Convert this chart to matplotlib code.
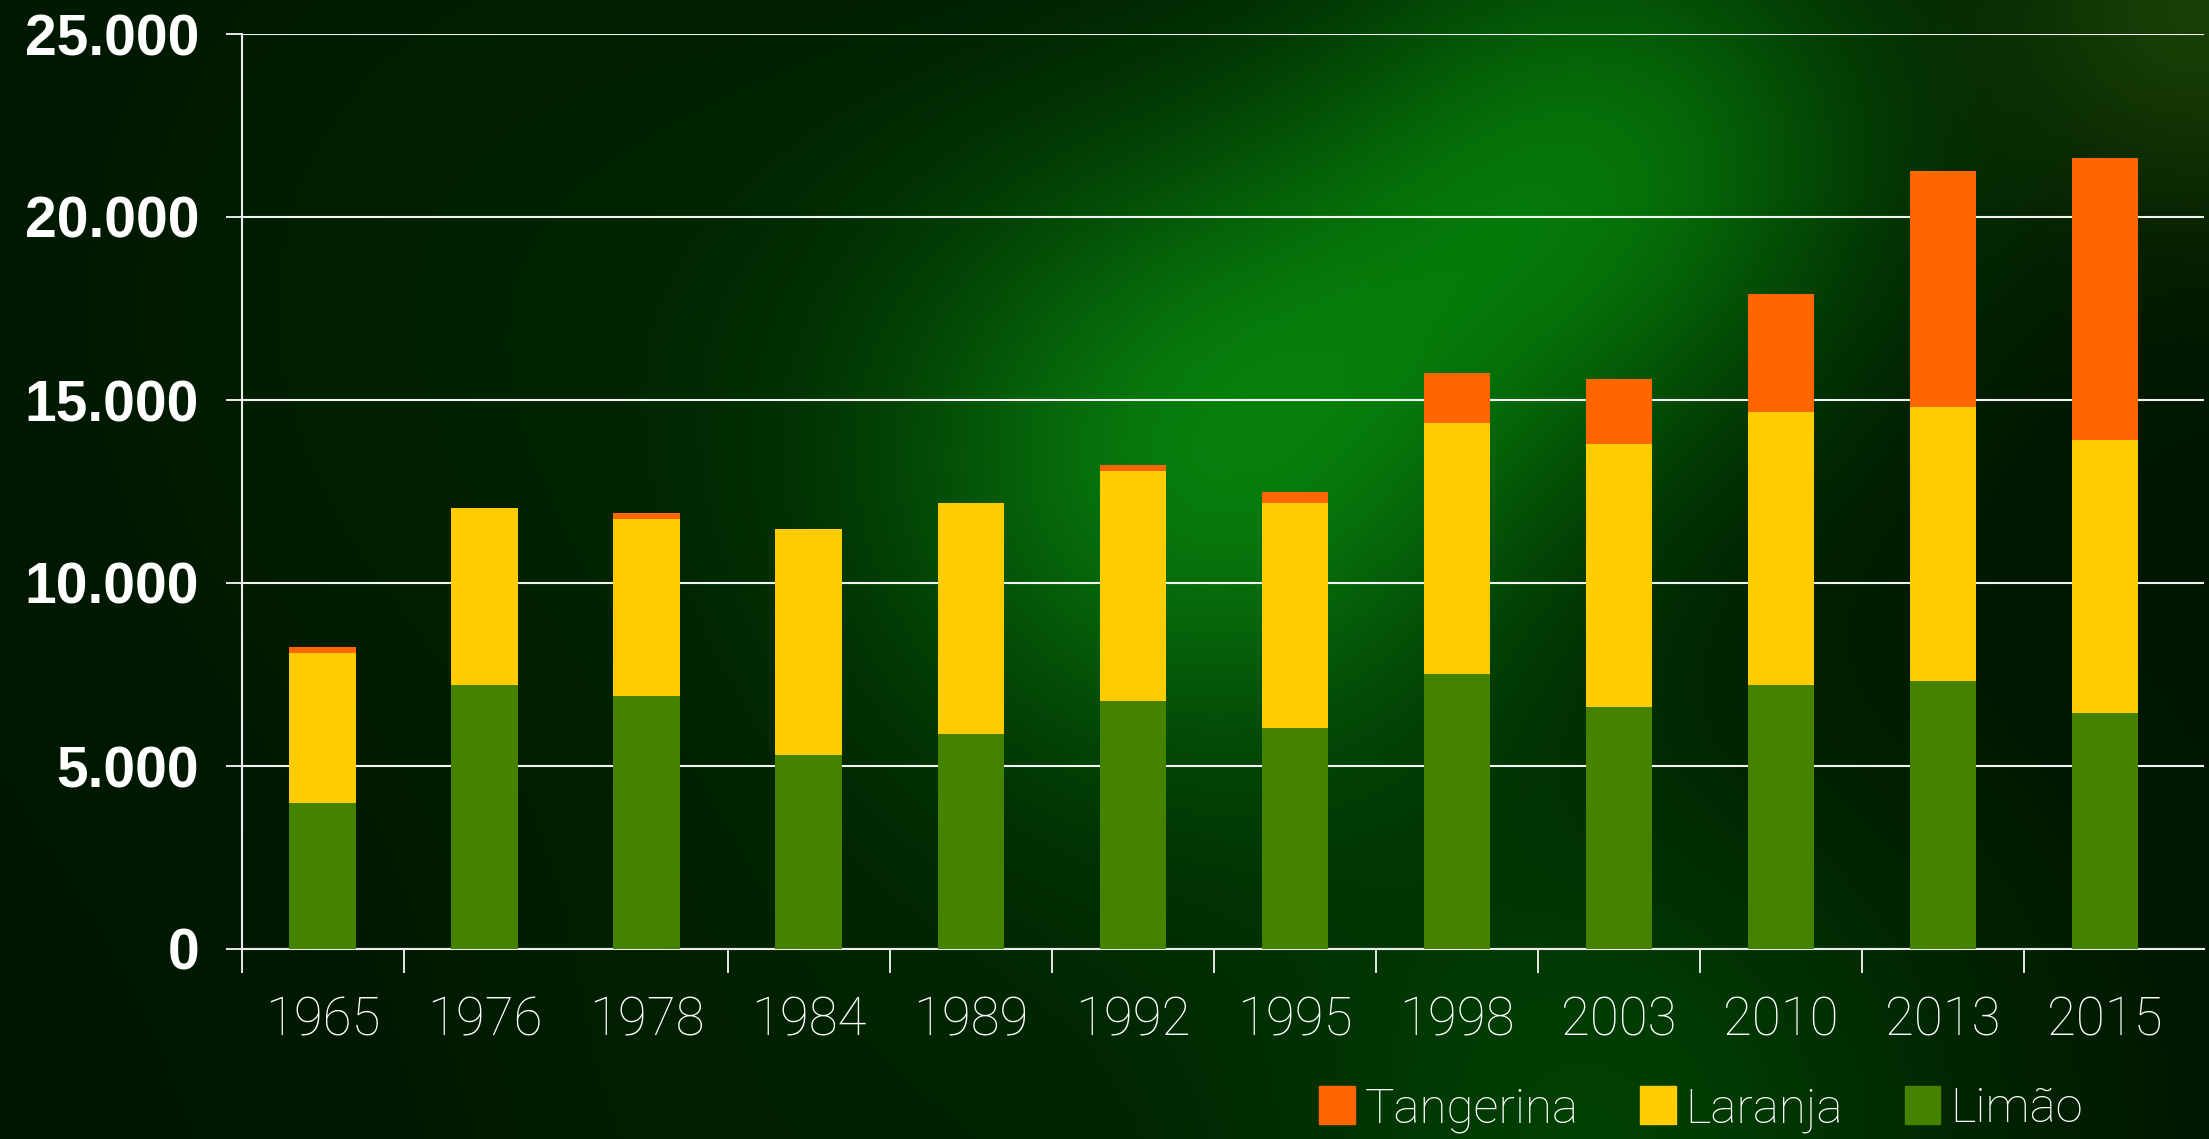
import matplotlib
matplotlib.use("Agg")
import matplotlib.pyplot as plt
from matplotlib.patches import Patch
import numpy as np

years = ["1965", "1976", "1978", "1984", "1989", "1992", "1995",
         "1998", "2003", "2010", "2013", "2015"]
limao = [3990, 7210, 6910, 5300, 5870, 6780, 6040, 7510, 6610, 7210, 7330, 6450]
laranja = [4100, 4840, 4840, 6180, 6320, 6280, 6150, 6860, 7190, 7460, 7480, 7460]
tangerina = [160, 0, 160, 0, 0, 160, 300, 1360, 1770, 3230, 6450, 7700]
yticks = [0, 5000, 10000, 15000, 20000, 25000]
ytick_labels = ["0", "5.000", "10.000", "15.000", "20.000", "25.000"]

c_limao = "#458200"
c_laranja = "#ffcc00"
c_tangerina = "#ff6600"
light = dict(family="Roboto", weight="light")

W, H = 2209, 1139
fig = plt.figure(figsize=(W / 100, H / 100), dpi=100)

# background: dark green with soft glows
bg_ax = fig.add_axes([0, 0, 1, 1], zorder=-10)
h, w = 285, 552
yy, xx = np.mgrid[0:h, 0:w]
xx = xx / w * W
yy = yy / h * H
img = np.zeros((h, w, 3))
img[..., 1] = 0.085
blobs = [
    # cx, cy, sigma, (r, g, b)
    (1200, 460, 230, (0.03, 0.36, 0.05)),
    (1620, 150, 200, (0.02, 0.30, 0.03)),
    (1420, 300, 180, (0.0, 0.08, 0.0)),
    (2209, 0, 150, (0.10, 0.16, 0.02)),
    (1600, 1139, 270, (0.0, 0.16, 0.01)),
    (600, 300, 350, (0.0, 0.05, 0.0)),
    (850, 1100, 300, (0.0, 0.04, 0.0)),
]
for cx, cy, s, col in blobs:
    g = np.exp(-((xx - cx) ** 2 + (yy - cy) ** 2) / (2 * s ** 2))
    for k in range(3):
        img[..., k] += col[k] * g
img = np.clip(img, 0, 1)
bg_ax.imshow(img, aspect="auto", interpolation="bilinear", extent=[0, 1, 0, 1])
bg_ax.set_axis_off()

ax = fig.add_axes([241.5 / W, 1 - 949 / H, (2204 - 241.5) / W, (949 - 34) / H])
ax.set_facecolor("none")

x = np.arange(len(years))
bw = 0.41
ax.bar(x, limao, bw, color=c_limao, zorder=3)
ax.bar(x, laranja, bw, bottom=limao, color=c_laranja, zorder=3)
bottom2 = np.array(limao) + np.array(laranja)
ax.bar(x, tangerina, bw, bottom=bottom2, color=c_tangerina, zorder=3)

ax.set_xlim(-0.5, 11.61)
ax.set_ylim(0, 25000)

ax.set_yticks(yticks)
ax.set_yticklabels(ytick_labels, family="Liberation Sans", weight="bold",
                   fontsize=41, color="white")
ax.tick_params(axis="y", length=11.5, width=1.4, color="#e8e8e8", pad=19)

ax.set_xticks(x)
ax.set_xticklabels(years, fontsize=38, color="white", **light)
ax.tick_params(axis="x", which="major", length=0, pad=33)
ax.set_xticks([-0.5, 0.5, 2.5, 3.5, 4.5, 5.5, 6.5, 7.5, 8.5, 9.5, 10.5], minor=True)
ax.tick_params(axis="x", which="minor", length=17, width=1.4, color="#e8e8e8")

ax.grid(axis="y", color="#f2f2f2", linewidth=1.5, zorder=1)
for side in ["top", "right"]:
    ax.spines[side].set_visible(False)
for side in ["left", "bottom"]:
    ax.spines[side].set_color("#ececec")
    ax.spines[side].set_linewidth(1.5)

handles = [Patch(color=c_tangerina, label="Tangerina"),
           Patch(color=c_laranja, label="Laranja"),
           Patch(color=c_limao, label="Limão")]
leg = fig.legend(handles=handles, loc="center", bbox_to_anchor=(0.77, 0.026),
                 ncol=3, frameon=False, handlelength=0.72,
                 handleheight=0.8, handletextpad=0.2, columnspacing=1.25,
                 borderpad=0, prop=light | dict(size=35.5))
for t in leg.get_texts():
    t.set_color("white")

fig.savefig("out.png", dpi=100)
